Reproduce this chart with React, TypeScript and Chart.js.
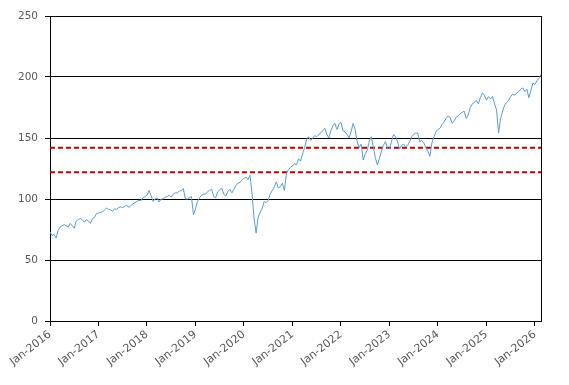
import React, { useEffect, useRef } from "react";
import { Chart, registerables } from "chart.js";

Chart.register(...registerables);

// Semi-monthly readings (1st and 15th of each month)
const v2016 = [73, 70, 71, 68, 74, 77, 78, 79, 78, 77, 80, 78, 76, 82, 83, 84, 83, 81, 83, 82, 80, 84, 85, 88];
const v2017 = [88.5, 89, 89.5, 91, 92.5, 91.5, 91, 90, 92, 91.5, 93, 93.5, 93, 94, 95, 93, 94.5, 96, 97, 98, 99, 98.5, 101, 102];
const v2018 = [103, 107, 103, 98, 100, 101, 97.5, 100, 100, 101.5, 102, 103, 101.5, 104, 105, 105, 106.5, 107, 108.5, 100, 100, 101, 102, 87];
const v2019 = [92, 98, 101, 103, 104, 104, 106, 107, 108, 102, 101, 106, 107.5, 109, 104, 102.5, 106, 108, 105, 108, 111, 113, 113.5, 115.5];
const v2020 = [117, 118, 116, 119.5, 104, 84, 72, 85, 89, 92, 98, 97, 99, 104, 107, 110, 114, 109, 110, 113, 107, 121, 124, 126];
const v2021 = [127, 129, 128, 133, 131, 137, 142, 149, 151, 148, 150, 152, 151, 153, 154, 156, 158, 153, 150, 156, 160, 162, 157, 161];
const v2022 = [163, 156, 155, 153, 150, 155, 162, 157, 147, 142, 145, 132, 137, 140, 147, 151, 143, 134, 128, 133, 139, 144, 147, 142];
const v2023 = [141, 147, 153, 151, 147, 141, 144, 145, 143, 144, 147, 151, 153, 154, 154, 147, 148, 146, 142, 139, 135, 146, 151, 155];
const v2024 = [157, 158, 161, 163, 166, 168, 167, 162, 164, 167, 168, 170, 171, 172, 166, 169, 175, 178, 179, 181, 178, 183, 187, 185];
const v2025 = [181, 184, 182, 184, 178, 173, 154, 166, 172, 177, 179, 181, 184, 186, 185, 187, 188, 190, 191, 188, 190, 183, 189, 195];
const v2026 = [194, 197, 199, 202];

const years = [2016, 2017, 2018, 2019, 2020, 2021, 2022, 2023, 2024, 2025, 2026];
const yearValues = [v2016, v2017, v2018, v2019, v2020, v2021, v2022, v2023, v2024, v2025, v2026];

const upperLevel = 142;
const lowerLevel = 122;

const xMaxMonths = 121.5; // mid-Feb 2026
const yearTickLabels = ["Jan-2016", "Jan-2017", "Jan-2018", "Jan-2019", "Jan-2020", "Jan-2021", "Jan-2022", "Jan-2023", "Jan-2024", "Jan-2025", "Jan-2026"];
const yTicks = [0, 50, 100, 150, 200, 250];

export default function App() {
  const ref = useRef<HTMLCanvasElement | null>(null);

  useEffect(() => {
    document.body.style.margin = "0";
    const canvas = ref.current;
    if (!canvas) return;

    const points: { x: number; y: number }[] = [];
    years.forEach((yr, yi) => {
      yearValues[yi].forEach((v, i) => {
        points.push({ x: (yr - 2016) * 12 + i * 0.5, y: v });
      });
    });

    const rightBorder = {
      id: "rightBorder",
      afterDraw(chart: any) {
        const { ctx, chartArea } = chart;
        ctx.save();
        ctx.strokeStyle = "#000";
        ctx.lineWidth = 1;
        const x = Math.round(chartArea.right) + 0.5;
        ctx.beginPath();
        ctx.moveTo(x, Math.round(chartArea.top));
        ctx.lineTo(x, Math.round(chartArea.bottom) + 1);
        ctx.stroke();
        ctx.restore();
      },
    };

    const chart = new Chart(canvas, {
      type: "line",
      data: {
        datasets: [
          {
            data: points,
            borderColor: "#5B9BD5",
            borderWidth: 1,
            pointRadius: 0,
            tension: 0,
            order: 1,
          },
          {
            data: [
              { x: 0, y: upperLevel },
              { x: xMaxMonths, y: upperLevel },
            ],
            borderColor: "#C00000",
            borderWidth: 2,
            borderDash: [5, 3],
            pointRadius: 0,
            order: 2,
          },
          {
            data: [
              { x: 0, y: lowerLevel },
              { x: xMaxMonths, y: lowerLevel },
            ],
            borderColor: "#C00000",
            borderWidth: 2,
            borderDash: [5, 3],
            pointRadius: 0,
            order: 2,
          },
        ],
      },
      options: {
        responsive: false,
        animation: false,
        layout: { padding: { top: 16, right: 28, left: 0, bottom: 0 } },
        plugins: { legend: { display: false }, tooltip: { enabled: false } },
        scales: {
          x: {
            type: "linear",
            min: 0,
            max: xMaxMonths,
            afterBuildTicks(scale: any) {
              scale.ticks = yearTickLabels.map((_, i) => ({ value: i * 12 }));
            },
            afterFit(scale: any) {
              scale.height = 64;
            },
            grid: {
              drawOnChartArea: false,
              drawTicks: true,
              tickLength: 5,
              color: "#000",
              tickColor: "#000",
            },
            border: { display: true, color: "#000", width: 1 },
            ticks: {
              autoSkip: false,
              minRotation: 38,
              maxRotation: 38,
              padding: 2,
              color: "#595959",
              font: { family: "DejaVu Sans", size: 11 },
              callback: (value: any) => {
                const idx = Math.round(Number(value) / 12);
                return yearTickLabels[idx] ?? "";
              },
            },
          },
          y: {
            min: 0,
            max: 250,
            afterBuildTicks(scale: any) {
              scale.ticks = yTicks.map((v) => ({ value: v }));
            },
            afterFit(scale: any) {
              scale.width = 50;
            },
            grid: {
              color: "#000",
              tickColor: "#000",
              lineWidth: 1,
              tickLength: 5,
            },
            border: { display: true, color: "#000", width: 1 },
            ticks: {
              padding: 7,
              color: "#595959",
              font: { family: "DejaVu Sans", size: 10.5 },
            },
          },
        },
      },
      plugins: [rightBorder],
    });

    return () => chart.destroy();
  }, []);

  return (
    <div style={{ width: 569, height: 385 }}>
      <canvas ref={ref} width={569} height={385} style={{ display: "block" }} />
    </div>
  );
}
